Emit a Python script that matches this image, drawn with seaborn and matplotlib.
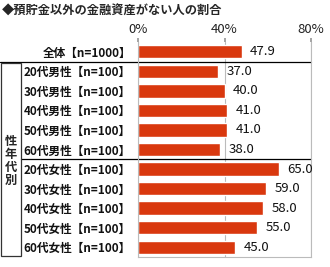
import matplotlib
matplotlib.use("Agg")
import matplotlib.pyplot as plt
import matplotlib.transforms as mtrans
from matplotlib.patches import Rectangle
import seaborn as sns
import pandas as pd

title = "◆預貯金以外の金融資産がない人の割合"
categories = ["全体【n=1000】",
              "20代男性【n=100】", "30代男性【n=100】", "40代男性【n=100】",
              "50代男性【n=100】", "60代男性【n=100】",
              "20代女性【n=100】", "30代女性【n=100】", "40代女性【n=100】",
              "50代女性【n=100】", "60代女性【n=100】"]
values = [47.9, 37.0, 40.0, 41.0, 41.0, 38.0, 65.0, 59.0, 58.0, 55.0, 45.0]
group_label = "性年代別"
xticks = [0, 40, 80]
xticklabels = ["0%", "40%", "80%"]

sns.set_theme(style="white")
fam = ["Noto Sans CJK JP", "DejaVu Sans"]
plt.rcParams["font.family"] = fam

df = pd.DataFrame({"cat": categories, "val": values})

fig = plt.figure(figsize=(3.3, 2.67), dpi=100)
W, H = 330, 267
ax = fig.add_axes([138 / W, 1 - 257 / H, (311 - 138) / W, (257 - 42) / H])

sns.barplot(data=df, x="val", y="cat", orient="h", color="#d9380e",
            saturation=1, width=0.68, ax=ax, order=categories)

ax.set_xlim(0, 80)
ax.set_ylim(len(categories) - 0.5, -0.5)
ax.set_xlabel("")
ax.set_ylabel("")
ax.xaxis.tick_top()
ax.set_xticks(xticks)
ax.set_xticklabels(xticklabels, fontsize=9.5, color="#222222")
ax.tick_params(axis="x", length=3, pad=1, color="#999999")
ax.tick_params(axis="y", length=0, pad=5)
for lab in ax.get_yticklabels():
    lab.set_fontsize(8.4)
    lab.set_fontweight("bold")
    lab.set_color("#111111")
ax.grid(axis="x", color="#bbbbbb", linewidth=0.8)
ax.set_axisbelow(True)
for side in ["left", "right", "bottom"]:
    ax.spines[side].set_visible(True)
    ax.spines[side].set_color("#bbbbbb")
    ax.spines[side].set_linewidth(0.8)
ax.spines["top"].set_visible(False)

for i, v in enumerate(values):
    ax.text(v + 4, i, f"{v:.1f}", va="center", ha="left", fontsize=9.5,
            color="#111111", family=fam)

# separator lines
blend = mtrans.blended_transform_factory(fig.transFigure, ax.transData)
ax.plot([0, 311 / W], [0.5, 0.5], transform=blend, color="black",
        linewidth=0.9, clip_on=False)
ax.plot([21 / W, 311 / W], [5.5, 5.5], transform=blend, color="black",
        linewidth=0.9, clip_on=False)
# group box
rect = Rectangle((1 / W, 10.45), 20 / W, -9.85, transform=blend,
                 fill=False, edgecolor="#333333", linewidth=0.9, clip_on=False)
fig.add_artist(rect)
fig.text(10.5 / W, 1 - 161 / H, "\n".join(group_label), ha="center",
         va="center", fontsize=8.8, fontweight="bold", linespacing=1.0,
         family=fam)

fig.text(2 / W, 1 - 11 / H, title, ha="left", va="center", fontsize=8.8,
         fontweight="bold", family=fam)

fig.savefig("out.png", dpi=100)
